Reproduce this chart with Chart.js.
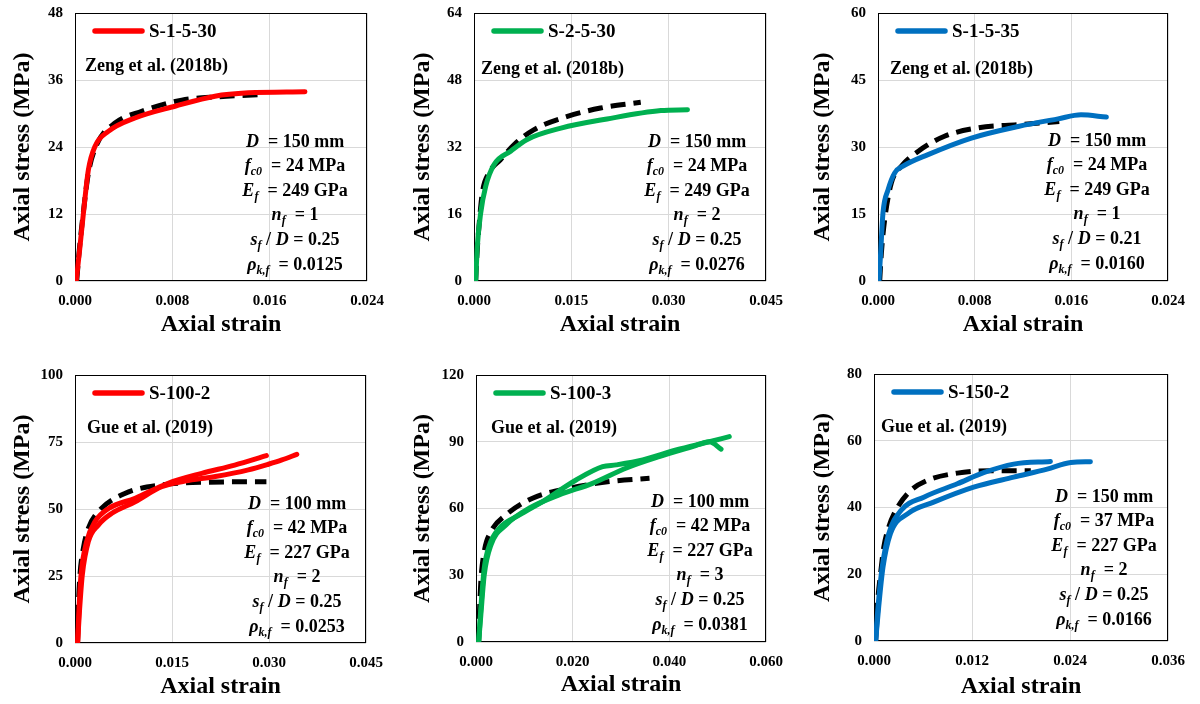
<!DOCTYPE html>
<html>
<head>
<meta charset="utf-8">
<script src="https://cdn.jsdelivr.net/npm/chart.js@4.4.1/dist/chart.umd.min.js"></script>
<style>
  body { margin: 0; background: #fff; }
  #wrap { position: relative; width: 1200px; height: 704px; overflow: hidden; }
  #wrap canvas { position: absolute; }
  .note {
    position: absolute;
    font-family: "Times New Roman", "Liberation Serif", serif;
    font-weight: bold;
    font-size: 18px;
    line-height: 20px;
    color: #000;
    white-space: nowrap;
  }
  .params { text-align: center; line-height: 24.6px; transform: translateX(-50%); }
  .params i { font-style: italic; }
  .params sub { font-size: 12px; line-height: 0; vertical-align: -4px; font-style: italic; }
</style>
</head>
<body>
<div id="wrap"></div>
<script>
const specimenNames = ["S-1-5-30", "S-2-5-30", "S-1-5-35", "S-100-2", "S-100-3", "S-150-2"];
const sources = ["Zeng et al. (2018b)", "Zeng et al. (2018b)", "Zeng et al. (2018b)",
  "Gue et al. (2019)", "Gue et al. (2019)", "Gue et al. (2019)"];
const diameters = [150, 150, 150, 100, 100, 150];
const fc0Values = [24, 24, 24, 42, 42, 37];
const efValues = [249, 249, 249, 227, 227, 227];
const nfValues = [1, 2, 1, 2, 3, 2];
const sfDValues = ["0.25", "0.25", "0.21", "0.25", "0.25", "0.25"];
const rhoValues = ["0.0125", "0.0276", "0.0160", "0.0253", "0.0381", "0.0166"];

const xMax = [0.024, 0.045, 0.024, 0.045, 0.060, 0.036];
const xStep = [0.008, 0.015, 0.008, 0.015, 0.020, 0.012];
const yMax = [48, 64, 60, 100, 120, 80];
const yStep = [12, 16, 15, 25, 30, 20];

// [strain, stress (MPa)]
const test1 = [[0.0001, 0], [0.00041, 6.2], [0.00068, 11.9], [0.0011, 19.9], [0.00164, 24.1], [0.00274, 26.8],
  [0.00493, 29.2], [0.00822, 31.3], [0.0115, 33.1], [0.01425, 33.7], [0.0189, 33.9]];
const model1 = [[0.00014, 0], [0.00033, 5.0], [0.00068, 12.2], [0.0011, 19.3], [0.00178, 24.4], [0.00329, 28.3],
  [0.00548, 30.4], [0.00877, 32.4], [0.0118, 33.0], [0.01534, 33.4]];

const test2 = [[0.00026, 0], [0.00051, 8.3], [0.00103, 16.2], [0.0018, 22.6], [0.0031, 27.8], [0.00565, 31.0],
  [0.0082, 33.8], [0.0134, 36.5], [0.0205, 38.7], [0.0288, 40.7], [0.0329, 40.9]];
const model2 = [[0.00026, 0], [0.00041, 5.1], [0.00077, 13.1], [0.00128, 21.0], [0.0023, 25.8], [0.0041, 29.0],
  [0.0062, 32.6], [0.0092, 36.1], [0.0144, 39.3], [0.0195, 41.3], [0.0257, 42.7]];

const test3 = [[0.00008, 0], [0.00022, 6.3], [0.00041, 15.2], [0.00083, 20.4], [0.00138, 24.2], [0.00207, 25.7],
  [0.00414, 28.3], [0.00773, 32.0], [0.0116, 34.6], [0.0149, 36.3], [0.0168, 37.2], [0.0189, 36.7]];
const model3 = [[0.00014, 0], [0.00028, 6.3], [0.00055, 13.7], [0.0011, 21.9], [0.00193, 25.7], [0.00331, 29.0],
  [0.0055, 32.4], [0.0083, 34.3], [0.0116, 35.0], [0.015, 35.7]];

const test4a = [[0.0004, 0], [0.00062, 12.9], [0.00093, 25.4], [0.0018, 37.8], [0.0031, 45.3], [0.0052, 50.2],
  [0.0093, 54.0], [0.0144, 59.6], [0.0196, 63.3], [0.0247, 66.4], [0.0296, 69.9]];
const test4b = [[0.0004, 0], [0.00072, 12.9], [0.00113, 25.4], [0.00206, 37.8], [0.0036, 44.0], [0.0057, 48.4],
  [0.0093, 52.7], [0.0134, 58.3], [0.017, 60.4], [0.0217, 62.1], [0.0268, 64.6], [0.0299, 66.7], [0.032, 68.3],
  [0.0343, 70.4]];
const model4 = [[0.0004, 0], [0.00052, 12.9], [0.00077, 25.4], [0.00129, 35.3], [0.00206, 42.8], [0.0036, 49.0],
  [0.0077, 55.8], [0.0134, 59.0], [0.0206, 60.0], [0.0296, 60.2]];

const test5a = [[0.00055, 0], [0.001, 15.1], [0.0017, 33.1], [0.0028, 43.6], [0.0048, 51.1], [0.009, 57.1],
  [0.0138, 63.1], [0.0207, 72.8], [0.0262, 78.8], [0.029, 79.6], [0.0345, 81.8], [0.0414, 86.3], [0.0483, 90.0],
  [0.0524, 92.3]];
const test5b = [[0.00055, 0], [0.001, 12.1], [0.0017, 30.1], [0.0031, 43.6], [0.0062, 52.6], [0.011, 60.1],
  [0.0172, 66.1], [0.0241, 71.3], [0.031, 78.1], [0.0379, 83.3], [0.0448, 87.8], [0.0483, 90.0], [0.0507, 86.7]];
const model5 = [[0.00055, 0], [0.0007, 12.1], [0.001, 27.1], [0.0017, 40.6], [0.0031, 49.6], [0.0062, 57.1],
  [0.0117, 64.6], [0.0193, 69.1], [0.0276, 72.1], [0.0359, 73.6]];

const test6a = [[0.0002, 0], [0.00049, 10.1], [0.001, 22.1], [0.0018, 32.1], [0.0033, 39.1], [0.0061, 43.1],
  [0.0102, 47.1], [0.0135, 50.5], [0.0171, 53.0], [0.0216, 53.8]];
const test6b = [[0.0002, 0], [0.00057, 10.1], [0.0011, 22.1], [0.002, 32.1], [0.0041, 38.1], [0.0073, 41.6],
  [0.0122, 46.1], [0.0171, 49.1], [0.0212, 51.5], [0.0241, 53.5], [0.0265, 53.7]];
const model6 = [[0.0002, 0], [0.0004, 10.1], [0.0008, 20.1], [0.0012, 28.1], [0.0018, 34.1], [0.0029, 40.1],
  [0.0045, 45.1], [0.0065, 48.1], [0.0102, 50.3], [0.0143, 51.0], [0.0192, 51.0]];

const testCurves = [[test1], [test2], [test3], [test4a, test4b], [test5a, test5b], [test6a, test6b]];
const modelCurves = [model1, model2, model3, model4, model5, model6];

// layout (page pixels)
const lineColors = ["#FF0000", "#00B050", "#0070C0", "#FF0000", "#00B050", "#0070C0"];
const plotBoxes = [[75, 13, 367, 281], [474, 13, 766, 281], [878, 13, 1168, 281],
  [75, 375, 366, 643], [476, 375, 766, 642], [874, 374, 1168, 641]];
const xTitlePad = [13, 13, 13, 3, 5, 3];
const paramSpots = [[295, 141], [697, 141], [1097, 140], [297, 503], [700, 501], [1104, 496]];
const sourceSpots = [[85, 65], [481, 68], [890, 68], [87, 427], [491, 427], [881, 426]];

const serif = '"Times New Roman", "Liberation Serif", serif';
const wrap = document.getElementById("wrap");

const frame = {
  id: "frame",
  beforeDatasetsDraw(chart) {
    const { ctx, chartArea: a } = chart;
    ctx.save();
    ctx.strokeStyle = "#000";
    ctx.lineWidth = 1;
    ctx.strokeRect(a.left + 0.5, a.top + 0.5, a.right - a.left - 1, a.bottom - a.top - 1);
    ctx.restore();
  },
  // legend drawn inside the plot, top left, like the Excel one
  afterDatasetsDraw(chart) {
    const { ctx, chartArea: a } = chart;
    const ds = chart.data.datasets[0];
    const y = a.top + 18;
    ctx.save();
    ctx.strokeStyle = ds.borderColor;
    ctx.lineWidth = 5.5;
    ctx.lineCap = "round";
    ctx.beginPath();
    ctx.moveTo(a.left + 20, y);
    ctx.lineTo(a.left + 67, y);
    ctx.stroke();
    ctx.fillStyle = "#000";
    ctx.font = "bold 19px " + serif;
    ctx.textBaseline = "middle";
    ctx.fillText(ds.label, a.left + 74, y + 1);
    ctx.restore();
  },
};

plotBoxes.forEach((box, i) => {
  const cellLeft = (i % 3) * 400;
  const cellTop = Math.floor(i / 3) * 352;
  const canvas = document.createElement("canvas");
  canvas.width = 400;
  canvas.height = 352;
  canvas.style.left = cellLeft + "px";
  canvas.style.top = cellTop + "px";
  wrap.appendChild(canvas);

  const datasets = testCurves[i].map((pts) => ({
    label: specimenNames[i],
    data: pts.map((p) => ({ x: p[0], y: p[1] })),
    borderColor: lineColors[i],
    backgroundColor: lineColors[i],
    borderWidth: 5,
    pointRadius: 0,
    cubicInterpolationMode: "monotone",
    borderCapStyle: "round",
    borderJoinStyle: "round",
  }));
  datasets.push({
    label: "Model",
    data: modelCurves[i].map((p) => ({ x: p[0], y: p[1] })),
    borderColor: "#000",
    backgroundColor: "#000",
    borderWidth: 5,
    borderDash: [15, 8],
    pointRadius: 0,
    cubicInterpolationMode: "monotone",
  });

  new Chart(canvas, {
    type: "line",
    data: { datasets },
    options: {
      responsive: false,
      animation: false,
      events: [],
      layout: {
        padding: { top: box[1] - cellTop, right: cellLeft + 400 - box[2], left: 0, bottom: 0 },
      },
      scales: {
        x: {
          type: "linear",
          min: 0,
          max: xMax[i],
          afterFit: (s) => {
            s.height = cellTop + 352 - box[3];
            s.paddingLeft = 0;
            s.paddingRight = 0;
          },
          grid: { color: "#d9d9d9", drawTicks: false },
          border: { display: false },
          ticks: {
            stepSize: xStep[i],
            padding: 11,
            maxRotation: 0,
            autoSkip: false,
            color: "#000",
            font: { family: serif, size: 15, weight: "bold" },
            callback: (v) => v.toFixed(3),
          },
          title: {
            display: true,
            text: "Axial strain",
            color: "#000",
            font: { family: serif, size: 24, weight: "bold" },
            padding: { top: 0, bottom: xTitlePad[i] },
          },
        },
        y: {
          min: 0,
          max: yMax[i],
          afterFit: (s) => {
            s.width = box[0] - cellLeft;
            s.paddingTop = 0;
            s.paddingBottom = 0;
          },
          grid: { color: "#d9d9d9", drawTicks: false },
          border: { display: false },
          ticks: {
            stepSize: yStep[i],
            padding: 12,
            color: "#000",
            font: { family: serif, size: 15, weight: "bold" },
          },
          title: {
            display: true,
            text: "Axial stress (MPa)",
            color: "#000",
            font: { family: serif, size: 24, weight: "bold" },
            padding: { top: 8, bottom: 0 },
          },
        },
      },
      plugins: {
        tooltip: { enabled: false },
        legend: { display: false },
      },
    },
    plugins: [frame],
  });

  const src = document.createElement("div");
  src.className = "note";
  src.style.left = sourceSpots[i][0] + "px";
  src.style.top = sourceSpots[i][1] - 10 + "px";
  src.textContent = sources[i];
  wrap.appendChild(src);

  const params = document.createElement("div");
  params.className = "note params";
  params.style.left = paramSpots[i][0] + "px";
  params.style.top = paramSpots[i][1] - 12.3 + "px";
  params.innerHTML =
    `<div><i>D</i>&nbsp; = ${diameters[i]} mm</div>` +
    `<div><i>f<sub>c0</sub></i>&nbsp; = ${fc0Values[i]} MPa</div>` +
    `<div><i>E<sub>f</sub></i>&nbsp; = ${efValues[i]} GPa</div>` +
    `<div><i>n<sub>f</sub></i>&nbsp; = ${nfValues[i]}</div>` +
    `<div><i>s<sub>f</sub></i> / <i>D</i> = ${sfDValues[i]}</div>` +
    `<div><i>ρ<sub>k,f</sub></i>&nbsp; = ${rhoValues[i]}</div>`;
  wrap.appendChild(params);
});
</script>
</body>
</html>
